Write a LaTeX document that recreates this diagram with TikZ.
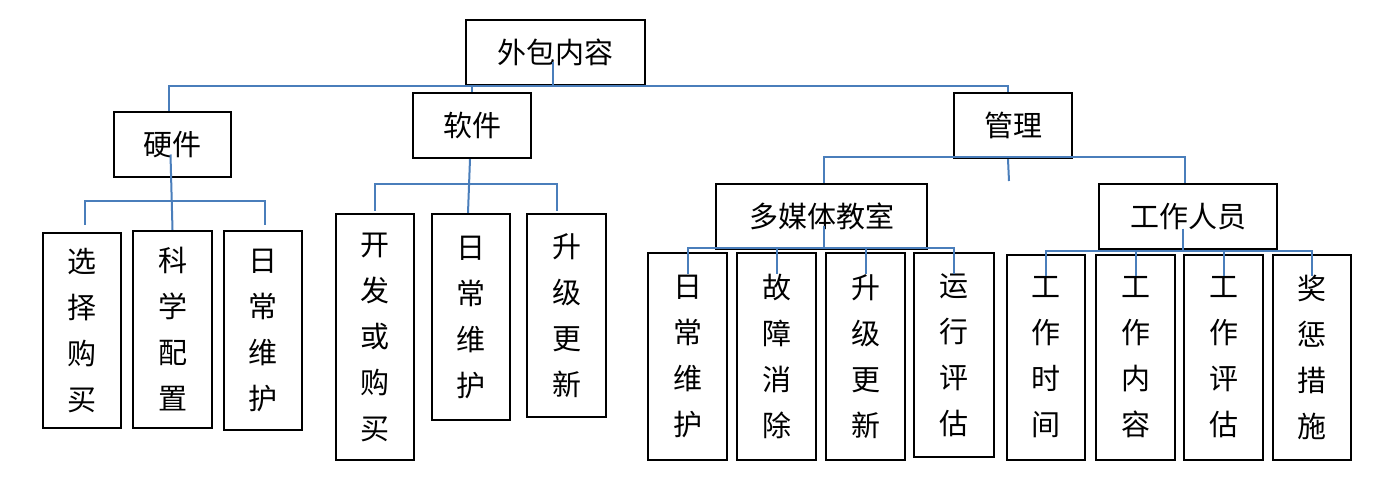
\documentclass[tikz,border=0pt]{standalone}
\usepackage{fontspec}
\setmainfont{Noto Sans CJK SC}
\definecolor{lineblue}{RGB}{74,126,187}
\begin{document}
\begin{tikzpicture}[x=1pt,y=-1pt,
  box/.style={draw=black,line width=2.2pt,inner sep=0pt,align=center,font=\fontsize{29}{46}\selectfont},
  conn/.style={draw=lineblue,line width=2pt}]
\useasboundingbox[fill=white] (0,0) rectangle (1382,487);
% level 0
\node[box,minimum width=179pt,minimum height=65pt] (root) at (555.5,52.5) {外包内容};
% level 1
\node[box,minimum width=117pt,minimum height=65pt] (hw) at (172.5,144.5) {硬件};
\node[box,minimum width=118pt,minimum height=65pt] (sw) at (472,125.5) {软件};
\node[box,minimum width=118pt,minimum height=65pt] (mg) at (1013,125.5) {管理};
% hardware children
\node[box,minimum width=78pt,minimum height=195pt] (hc1) at (82,330.5) {选\\择\\购\\买};
\node[box,minimum width=79pt,minimum height=197pt] (hc2) at (172.5,329.5) {科\\学\\配\\置};
\node[box,minimum width=78pt,minimum height=199pt] (hc3) at (263,330.5) {日\\常\\维\\护};
% software children
\node[box,minimum width=78pt,minimum height=246pt] (sc1) at (375,337) {开\\发\\或\\购\\买};
\node[box,minimum width=78pt,minimum height=206pt] (sc2) at (471,317) {日\\常\\维\\护};
\node[box,minimum width=79pt,minimum height=203pt] (sc3) at (566.5,315.5) {升\\级\\更\\新};
% management level 2
\node[box,minimum width=211pt,minimum height=65pt] (mm) at (821.5,216.5) {多媒体教室};
\node[box,minimum width=178pt,minimum height=65pt] (st) at (1188,216.5) {工作人员};
% multimedia children
\node[box,minimum width=79pt,minimum height=207pt] (mc1) at (687.5,356.5) {日\\常\\维\\护};
\node[box,minimum width=79pt,minimum height=207pt] (mc2) at (776.5,356.5) {故\\障\\消\\除};
\node[box,minimum width=79pt,minimum height=207pt] (mc3) at (865.5,356.5) {升\\级\\更\\新};
\node[box,minimum width=80pt,minimum height=204pt] (mc4) at (954,355) {运\\行\\评\\估};
% staff children
\node[box,minimum width=78pt,minimum height=205pt] (tc1) at (1046,357.5) {工\\作\\时\\间};
\node[box,minimum width=79pt,minimum height=205pt] (tc2) at (1135.5,357.5) {工\\作\\内\\容};
\node[box,minimum width=79pt,minimum height=205pt] (tc3) at (1223.5,357.5) {工\\作\\评\\估};
\node[box,minimum width=78pt,minimum height=205pt] (tc4) at (1312,357.5) {奖\\惩\\措\\施};
% bus coordinates
\coordinate (rb) at (0,86);
\coordinate (hb) at (0,201);
\coordinate (sb) at (0,184);
\coordinate (mb) at (0,157);
\coordinate (mmb) at (0,248);
\coordinate (stb) at (0,251);
% root connectors
\draw[conn] ([xshift=-3.5pt]hw.north) |- ([xshift=-5pt]mg.north |- rb) -- ([xshift=-5pt]mg.north);
\draw[conn] (sw.north) -- (sw.north |- rb);
\draw[conn] ([xshift=-2.5pt,yshift=-10pt]root.center) -- ([xshift=-2.5pt]root.center |- rb);
% hardware connectors
\draw[conn] ([xshift=-2pt,yshift=-10pt]hw.center) -- (hc2.north);
\draw[conn] ([xshift=3pt,yshift=7pt]hc1.north) |- ([xshift=2pt]hc3.north |- hb) -- ([xshift=2pt,yshift=5pt]hc3.north);
% software connectors
\draw[conn] ([xshift=-2pt]sw.south) -- ([xshift=-3pt]sc2.north);
\draw[conn] ([yshift=2pt]sc1.north) |- ([xshift=-10pt]sc3.north |- sb) -- ([xshift=-10pt,yshift=2pt]sc3.north);
% management connectors
\draw[conn] ([xshift=2.5pt]mm.north) |- ([xshift=-3pt]st.north |- mb) -- ([xshift=-3pt]st.north);
\coordinate (mgstub) at (1009,181);
\draw[conn] ([xshift=-5pt]mg.south) -- (mgstub);
% multimedia connectors
\draw[conn] ([xshift=2.5pt,yshift=-9pt]mm.center) -- ([xshift=2.5pt]mm.center |- mmb);
\draw[conn] ([yshift=-22pt]mc1.north) |- (mc4.north |- mmb) -- ([yshift=-22pt]mc4.north);
\draw[conn] (mc2.north |- mmb) -- ([yshift=-22pt]mc2.north);
\draw[conn] (mc3.north |- mmb) -- ([yshift=-22pt]mc3.north);
% staff connectors
\draw[conn] ([xshift=-5pt,yshift=-12pt]st.center) -- ([xshift=-5pt]st.center |- stb);
\draw[conn] ([yshift=-22pt]tc1.north) |- (tc4.north |- stb) -- ([yshift=-22pt]tc4.north);
\draw[conn] (tc2.north |- stb) -- ([yshift=-22pt]tc2.north);
\draw[conn] (tc3.north |- stb) -- ([yshift=-22pt]tc3.north);
\end{tikzpicture}
\end{document}
